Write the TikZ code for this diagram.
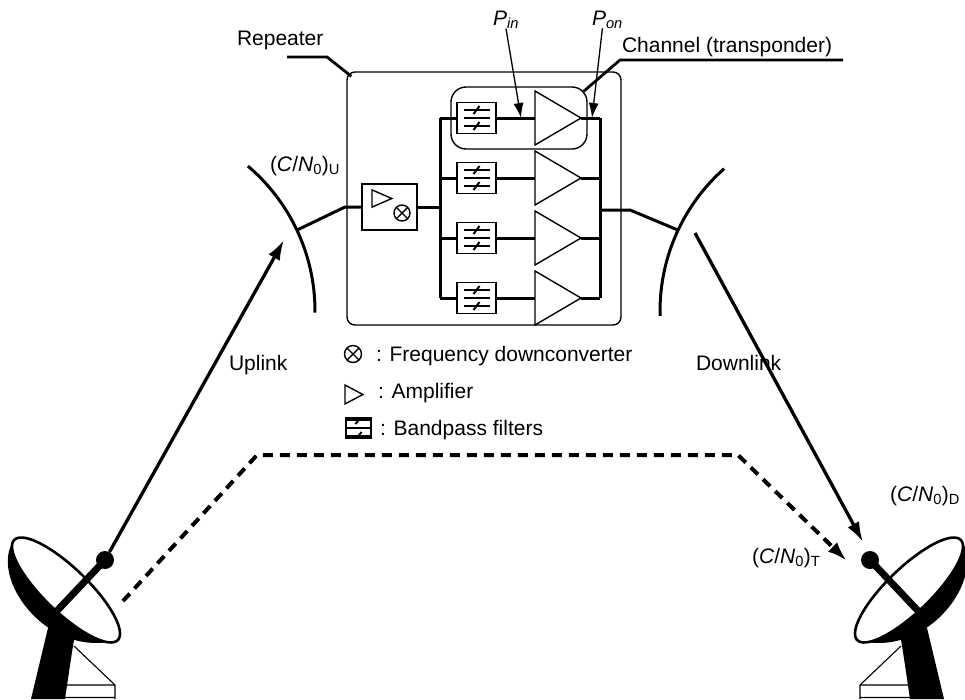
\documentclass[tikz,border=0pt]{standalone}
\usepackage{fontspec}
\setmainfont{Liberation Sans}
\usetikzlibrary{arrows.meta}

% (C/N0)_x and P_x labels
\newcommand\cnratio[1]{(\textit{C}/\textit{N}\textsubscript{0})\textsubscript{#1}}
\newcommand\powlabel[1]{\textit{P}\textsubscript{\textit{#1}}}

% earth station antenna, drawn in the frame of the left-hand station
\newcommand\groundstation{%
  % pedestal
  \fill[black] (48,628) -- (31,699) -- (65,699) -- (72,652) -- (76,628) -- cycle;
  % thin support frame
  \draw[line width=1.1pt] (74,646) -- (115,685) -- (115,699)
    (62,685) -- (115,685) (62,697.5) -- (115,697.5);
  % reflector bowl and rim
  \begin{scope}[shift={(66,590)}, rotate=-44]
    \fill[black] (-72,0) .. controls (-66,44) and (34,64) .. (72,0)
      -- plot[domain=0:180, samples=40] ({72*cos(\x)}, {22*sin(\x)}) -- cycle;
    \draw[line width=2.6pt, fill=white]
      plot[domain=0:360, samples=90] ({72*cos(\x)}, {22*sin(\x)}) -- cycle;
  \end{scope}
  % feed support
  \draw[line width=7pt] (54,614) -- (105,560);
}

\tikzset{
  frame/.style={line width=1.4pt},
  bus/.style={line width=3pt},
  leader/.style={line width=2.8pt},
  skyarc/.style={line width=3pt},
  link/.style={line width=3.3pt, -{Latex[length=20pt,width=13pt]}},
  pathlink/.style={line width=4pt, dash pattern=on 10pt off 7pt, -{Latex[length=20pt,width=13pt]}},
  probe/.style={line width=1.3pt, -{Latex[length=15pt,width=10pt]}},
  txt/.style={anchor=base west, inner sep=0pt, outer sep=0pt},
  feedball/.style={circle, fill=black, minimum size=18pt, inner sep=0pt},
  filterbox/.style={draw, line width=1.4pt, fill=white, inner sep=0pt,
    minimum width=#1*39pt, minimum height=#1*31pt,
    path picture={
      \begin{scope}[shift={(path picture bounding box.center)}, scale=#1]
        \draw[line width=1.2pt] (-13,-8) -- (13,-8) (-13,0) -- (13,0) (-13,8) -- (13,8);
        \draw[line width=2pt] (-3,-4) -- (3,-12) (-3,12) -- (3,4);
      \end{scope}}},
  filterbox/.default=1,
  mixer/.style={draw, circle, line width=1.4pt, minimum size=#1, inner sep=0pt,
    path picture={\draw[line width=1.4pt]
      (path picture bounding box.north west) -- (path picture bounding box.south east)
      (path picture bounding box.north east) -- (path picture bounding box.south west);}},
  amp/.pic={\draw[line width=1.4pt, fill=white] (0,-27) -- (46,0) -- (0,27) -- cycle;
    \coordinate (-in) at (0,0); \coordinate (-out) at (46,0);},
}

\begin{document}
\begin{tikzpicture}[x=1pt, y=-1pt, font=\fontsize{21}{25}\selectfont]
\fill[white] (0,0) rectangle (965,699);
\useasboundingbox (0,0) rectangle (965,699);

% ---------- repeater ----------
\node[draw, frame, rounded corners=8pt, minimum width=274pt, minimum height=253pt] (rep) at (484,198.5) {};
\node[draw, frame, rounded corners=15pt, minimum width=136pt, minimum height=62pt] (ch) at (519,118) {};

% downconverter block
\node[draw, frame, minimum width=55pt, minimum height=46pt] (dc) at (389.5,207) {};
\pic[xscale=0.43, yscale=0.32] (dcamp) at (372,198.5) {amp};
\node[mixer=16pt] (dcmix) at (402,213) {};

% channel filters and amplifiers
\foreach \i/\y in {1/118, 2/178, 3/238, 4/298} {
  \node[filterbox] (f\i) at (476.5,\y) {};
  \pic (a\i) at (535,\y) {amp};
  \coordinate (bl\i) at (440,\y);
  \coordinate (br\i) at (600,\y);
}
\coordinate (busin) at (440,207);
\coordinate (busout) at (600,210);

\draw[bus] (bl1) -- (bl4);
\draw[bus] (br1) -- (br4);
\foreach \i in {1,...,4} {
  \draw[bus] (bl\i) -- (f\i);
  \draw[bus] (f\i) -- (a\i-in);
  \draw[bus] (a\i-out) -- (br\i);
}

% antenna beams (arcs)
\draw[skyarc] plot[domain=-0.5:49.7, samples=50] ({125+190*cos(\x)}, {311-190*sin(\x)});
\draw[skyarc] plot[domain=-1.5:48.5, samples=50] ({850-190*cos(\x)}, {311-190*sin(\x)});
\coordinate (upj) at ({125+190*cos(25.2)}, {311-190*sin(25.2)});
\coordinate (dnj) at ({850-190*cos(25.2)}, {311-190*sin(25.2)});

\draw[bus] (upj) -- (345,207) -- (dc);
\draw[bus] (dc) -- (busin);
\draw[bus] (busout) -- (630,210) -- (dnj);

% labels and leaders
\node[txt] (lrep) at (237,45.5) {Repeater};
\coordinate (reptail) at (287,57);
\draw[leader] (reptail) -- (327,57) -- ([shift={(5,5)}]rep.north west);

\node[txt] (lch) at (622,52) {Channel (transponder)};
\coordinate (chtail) at (843,60);
\draw[leader] (chtail) -- (620,60) -- ([shift={(-4,5)}]ch.north east);

\node[txt] (lpin) at (493,25) {\powlabel{in}};
\node[txt] (lpon) at (592,25) {\powlabel{on}};
\coordinate (pintip) at (521,118);
\coordinate (pontip) at (592,118);
\draw[probe] (lpin.south) -- (pintip);
\draw[probe] ([xshift=-5pt]lpon.south) -- (pontip);

\node[txt] (lu) at (270,171.5) {\cnratio{U}};
\node[txt] (ld) at (890,501.5) {\cnratio{D}};
\node[txt] (lt) at (752,563) {\cnratio{T}};
\node[txt] (lup) at (229,370) {Uplink};
\node[txt] (ldown) at (696,370) {Downlink};

% legend
\node[mixer=17pt] (legmix) at (353,354) {};
\node[txt] (legmixt) at (376,361.5) {: Frequency downconverter};
\pic[xscale=0.39, yscale=0.35] (legamp) at (345,394.5) {amp};
\node[txt] (legampt) at (378,398.3) {: Amplifier};
\node[filterbox=0.65] (legfil) at (358.5,428) {};
\node[txt] (legfilt) at (380,435) {: Bandpass filters};

% earth stations
\groundstation
\begin{scope}[shift={(975,0)}, xscale=-1]
  \groundstation
\end{scope}
\node[feedball] (dishl) at (105,560) {};
\node[feedball] (dishr) at (870,560) {};

% links
\coordinate (uptip) at (284,240);
\coordinate (dnstart) at (695,233);
\coordinate (dntip) at (863,542);
\coordinate (dashstart) at (123,601);
\coordinate (dashtip) at (847,561);
\draw[link] (dishl) -- (uptip);
\draw[link] (dnstart) -- (dntip);
\draw[pathlink] (dashstart) -- (257,455) -- (738,455) -- (dashtip);
\end{tikzpicture}
\end{document}
